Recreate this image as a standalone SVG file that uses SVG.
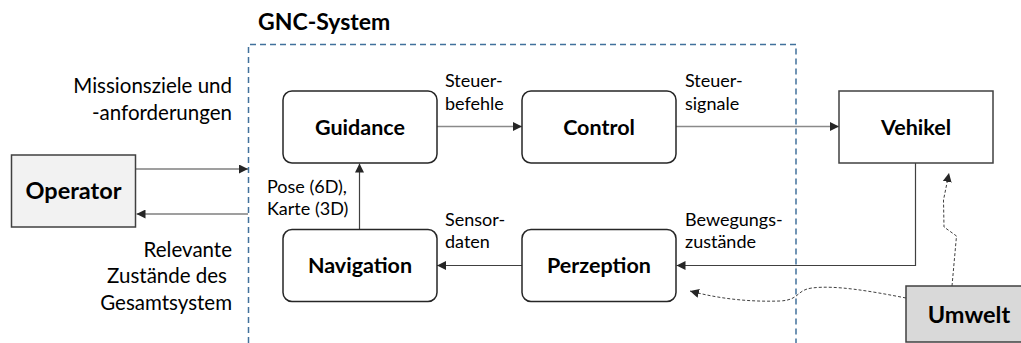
<svg xmlns="http://www.w3.org/2000/svg" width="1021" height="343" viewBox="0 0 1021 343">
  <style>
    .box { fill: #ffffff; stroke: #262626; stroke-width: 1.5; }
    .ext { stroke: #404040; stroke-width: 1.5; }
    .title { font-family: Lato, "Liberation Sans", sans-serif; font-weight: bold; fill: #000; text-anchor: middle; }
    .lbl { font-family: Lato, "Liberation Sans", sans-serif; fill: #000; }
    .small { font-size: 18px; }
    .mid { font-size: 20.5px; }
    .wire { fill: none; stroke: #404040; stroke-width: 1.2; }
    .wire-light { fill: none; stroke: #8a8a8a; stroke-width: 1.6; }
    .env { fill: none; stroke: #404040; stroke-width: 1; stroke-dasharray: 3 2; }
    .frame { fill: none; stroke: #41719c; stroke-width: 1.5; stroke-dasharray: 6 4; }
  </style>
  <defs>
    <marker id="arrow" viewBox="0 0 10 10" refX="10" refY="5" markerWidth="9" markerHeight="9" markerUnits="userSpaceOnUse" orient="auto">
      <path d="M0,0 L10,5 L0,10 Z" fill="#262626"/>
    </marker>
  </defs>

  <rect width="1021" height="343" fill="#ffffff"/>

  <!-- GNC system boundary -->
  <g id="gnc-system">
    <path class="frame" d="M248.5,343 V44.5 H796 V343"/>
    <text class="lbl" x="258" y="30" font-size="23" font-weight="bold">GNC-System</text>
  </g>

  <!-- connectors -->
  <g id="connectors">
    <line class="wire" x1="136" y1="169" x2="248" y2="169" marker-end="url(#arrow)"/>
    <line class="wire" x1="248" y1="214" x2="136.5" y2="214" marker-end="url(#arrow)"/>
    <line class="wire-light" x1="437" y1="126.5" x2="522" y2="126.5" marker-end="url(#arrow)"/>
    <line class="wire-light" x1="676" y1="126.5" x2="839" y2="126.5" marker-end="url(#arrow)"/>
    <line class="wire" x1="359.5" y1="229.5" x2="359.5" y2="163.5" marker-end="url(#arrow)"/>
    <line class="wire" x1="522" y1="265.5" x2="437" y2="265.5" marker-end="url(#arrow)"/>
    <path class="wire" d="M915.5,163 V265.5 H676.5" marker-end="url(#arrow)"/>
    <path class="env" d="M952,286 L956.5,236 L944,227 L943.5,200 L949,173" marker-end="url(#arrow)"/>
    <path class="env" d="M906,298 C870,291 835,285 812,288 C796,290 800,300 780,301 C750,302 720,299 690,291" marker-end="url(#arrow)"/>

    <text class="lbl mid" x="232" y="93" text-anchor="end">Missionsziele und</text>
    <text class="lbl mid" x="232" y="120" text-anchor="end">-anforderungen</text>
    <text class="lbl mid" x="232" y="257" text-anchor="end">Relevante</text>
    <text class="lbl mid" x="227" y="283" text-anchor="end">Zustände des</text>
    <text class="lbl mid" x="232" y="310" text-anchor="end">Gesamtsystem</text>

    <text class="lbl small" x="445" y="87">Steuer-</text>
    <text class="lbl small" x="445" y="110">befehle</text>
    <text class="lbl small" x="685" y="87">Steuer-</text>
    <text class="lbl small" x="685" y="110">signale</text>
    <text class="lbl small" x="445" y="226">Sensor-</text>
    <text class="lbl small" x="445" y="248">daten</text>
    <text class="lbl small" x="685" y="226">Bewegungs-</text>
    <text class="lbl small" x="685" y="248">zustände</text>
    <text class="lbl small" x="267" y="193">Pose (6D),</text>
    <text class="lbl small" x="267" y="215">Karte (3D)</text>
  </g>

  <g id="operator">
    <rect class="ext" x="11.5" y="155" width="124" height="72" fill="#f2f2f2"/>
    <text class="title" x="73.5" y="199" font-size="23.5">Operator</text>
  </g>

  <g id="guidance">
    <rect class="box" x="283" y="91" width="154" height="72" rx="9"/>
    <text class="title" x="360" y="135" font-size="21.5">Guidance</text>
  </g>

  <g id="control">
    <rect class="box" x="522" y="91" width="154" height="72" rx="9"/>
    <text class="title" x="599" y="135" font-size="21.5">Control</text>
  </g>

  <g id="navigation">
    <rect class="box" x="283" y="229.5" width="154" height="72" rx="9"/>
    <text class="title" x="360" y="273" font-size="21.5">Navigation</text>
  </g>

  <g id="perzeption">
    <rect class="box" x="522" y="229.5" width="154" height="72" rx="9"/>
    <text class="title" x="599" y="273" font-size="21.5">Perzeption</text>
  </g>

  <g id="vehikel">
    <rect class="ext" x="839" y="91" width="154" height="72" fill="#ffffff"/>
    <text class="title" x="916" y="135" font-size="21.5">Vehikel</text>
  </g>

  <g id="umwelt">
    <rect class="ext" x="906" y="286" width="130" height="56" fill="#d9d9d9"/>
    <text class="title" x="969" y="323" font-size="23.5">Umwelt</text>
  </g>
</svg>
